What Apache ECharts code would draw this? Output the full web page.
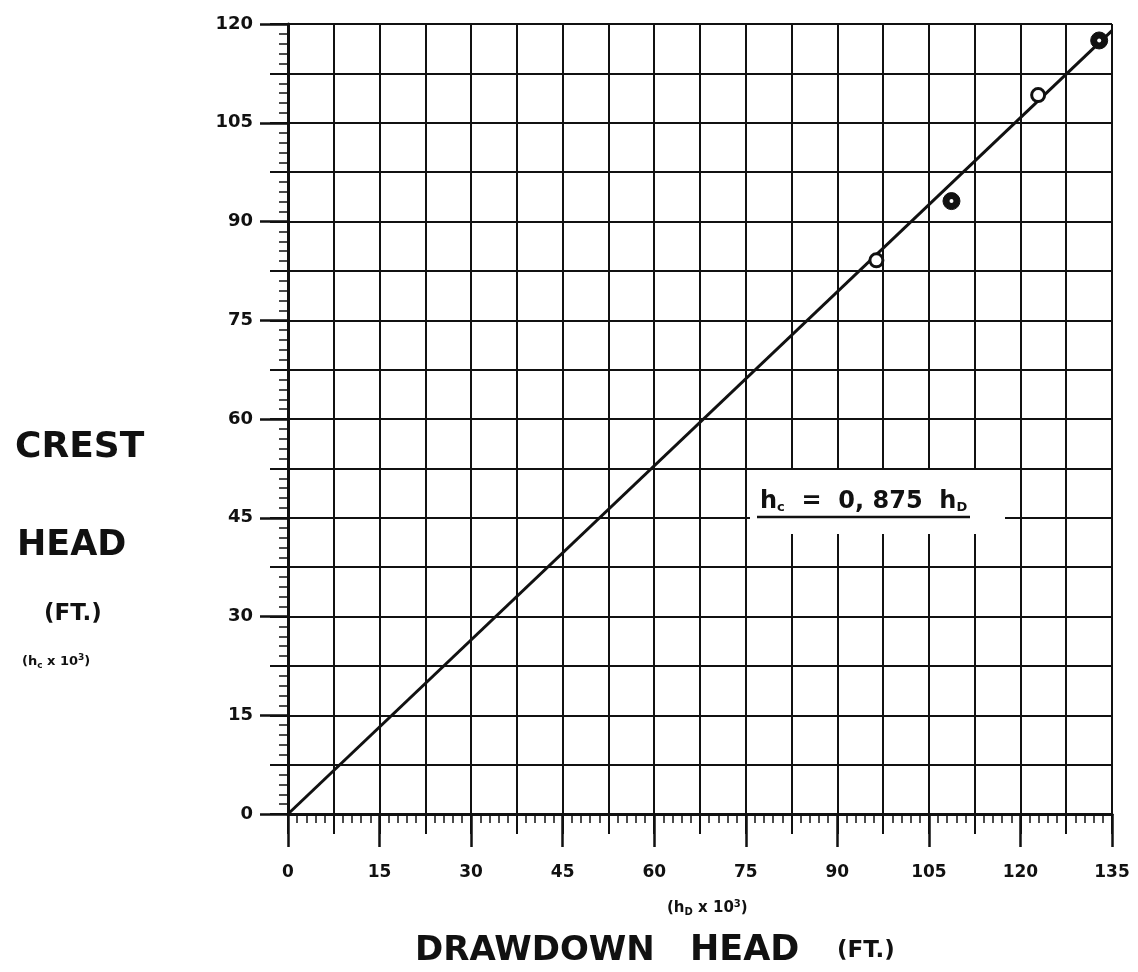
<!DOCTYPE html>
<html><head><meta charset="utf-8">
<script src="https://cdn.jsdelivr.net/npm/echarts@6/dist/echarts.min.js"></script>
<style>html,body{margin:0;padding:0;background:#fff}#c{width:1138px;height:972px}</style>
</head><body><div id="c"></div>
<script>
// Tick labels
const xTickLabels = [0, 15, 30, 45, 60, 75, 90, 105, 120, 135];
const yTickLabels = [0, 15, 30, 45, 60, 75, 90, 105, 120];
// Observed points (drawdown head, crest head), x 10^3 ft
const openPoints = [[96.4, 84.1], [122.9, 109.2]];
const filledPoints = [[108.7, 93.1], [132.9, 117.5]];
// Fitted line hc = 0.875 hD (end points as drawn)
const fitLine = [[0, 0], [135, 119]];

const INK = '#111';
const FONT = '"DejaVu Sans", sans-serif';
const chart = echarts.init(document.getElementById('c'), null, {renderer: 'canvas'});

const baseX = {
  type: 'value', min: 0, max: 135, gridIndex: 0, position: 'bottom', offset: 0
};
const baseY = {
  type: 'value', min: 0, max: 120, gridIndex: 0, position: 'left', offset: 0
};

chart.setOption({
  animation: false,
  backgroundColor: '#fff',
  grid: {left: 288, right: 26, top: 24, bottom: 158, containLabel: false},
  xAxis: [
    Object.assign({}, baseX, {
      interval: 7.5,
      axisLine: {show: true, onZero: false, lineStyle: {color: INK, width: 3}},
      axisTick: {show: true, inside: false, length: 20, lineStyle: {color: INK, width: 2}},
      minorTick: {show: true, splitNumber: 5, length: 9, lineStyle: {color: INK, width: 1.5}},
      axisLabel: {show: false},
      splitLine: {show: true, lineStyle: {color: INK, width: 2}}
    }),
    Object.assign({}, baseX, {
      interval: 15,
      axisLine: {show: false, onZero: false},
      axisTick: {show: true, inside: false, length: 33, customValues: xTickLabels, lineStyle: {color: INK, width: 2.5}},
      axisLabel: {show: true, margin: 50, customValues: xTickLabels, color: INK,
        fontFamily: FONT, fontWeight: 'bold', fontSize: 17},
      splitLine: {show: false}
    })
  ],
  yAxis: [
    Object.assign({}, baseY, {
      interval: 7.5,
      axisLine: {show: true, onZero: false, lineStyle: {color: INK, width: 3}},
      axisTick: {show: true, inside: false, length: 18, lineStyle: {color: INK, width: 2}},
      minorTick: {show: true, splitNumber: 5, length: 9, lineStyle: {color: INK, width: 1.5}},
      axisLabel: {show: false},
      splitLine: {show: true, lineStyle: {color: INK, width: 2}}
    }),
    Object.assign({}, baseY, {
      interval: 15,
      axisLine: {show: false, onZero: false},
      axisTick: {show: true, inside: false, length: 28, customValues: yTickLabels, lineStyle: {color: INK, width: 2.5}},
      axisLabel: {show: true, margin: 35, customValues: yTickLabels, color: INK,
        fontFamily: FONT, fontWeight: 'bold', fontSize: 18, verticalAlign: 'middle', padding: [0, 0, 12, 0]},
      splitLine: {show: false}
    })
  ],
  graphic: [
    // equation box
    {type: 'rect', z: 100, shape: {x: 750, y: 470, width: 255, height: 64}, style: {fill: '#fff'}},
    {type: 'text', z: 101, style: {x: 760, y: 502, textVerticalAlign: 'middle', textAlign: 'left',
      text: '{b|h}{s|c}{b|  =  0, 875  h}{s|D}',
      rich: {
        b: {fontFamily: FONT, fontWeight: 'bold', fontSize: 24, fill: INK, verticalAlign: 'bottom'},
        s: {fontFamily: FONT, fontWeight: 'bold', fontSize: 13, fill: INK, verticalAlign: 'bottom', padding: [0, 0, 0, 0]}
      }}},
    {type: 'line', z: 101, shape: {x1: 757, y1: 517, x2: 970, y2: 517}, style: {stroke: INK, lineWidth: 2.5}},
    // left axis title
    {type: 'text', style: {x: 15, y: 448, textVerticalAlign: 'middle', text: 'CREST',
      font: 'bold 36px ' + FONT, fill: INK}},
    {type: 'text', style: {x: 17, y: 546, textVerticalAlign: 'middle', text: 'HEAD',
      font: 'bold 35px ' + FONT, fill: INK}},
    {type: 'text', style: {x: 44, y: 614, textVerticalAlign: 'middle', text: '(FT.)',
      font: 'bold 23px ' + FONT, fill: INK}},
    {type: 'text', style: {x: 22, y: 662, textVerticalAlign: 'middle',
      text: '{a|(h}{s|c}{a| x 10}{p|3}{a|)}',
      rich: {
        a: {fontFamily: FONT, fontWeight: 'bold', fontSize: 13, fill: INK},
        s: {fontFamily: FONT, fontWeight: 'bold', fontSize: 9, fill: INK, padding: [8, 0, 0, 0]},
        p: {fontFamily: FONT, fontWeight: 'bold', fontSize: 9, fill: INK, padding: [0, 0, 8, 0]}
      }}},
    // bottom axis title
    {type: 'text', style: {x: 667, y: 908, textVerticalAlign: 'middle',
      text: '{a|(h}{s|D}{a| x 10}{p|3}{a|)}',
      rich: {
        a: {fontFamily: FONT, fontWeight: 'bold', fontSize: 15, fill: INK},
        s: {fontFamily: FONT, fontWeight: 'bold', fontSize: 10, fill: INK, padding: [8, 0, 0, 0]},
        p: {fontFamily: FONT, fontWeight: 'bold', fontSize: 10, fill: INK, padding: [0, 0, 8, 0]}
      }}},
    {type: 'text', style: {x: 415, y: 951, textVerticalAlign: 'middle', text: 'DRAWDOWN',
      font: 'bold 34px ' + FONT, fill: INK}},
    {type: 'text', style: {x: 690, y: 951, textVerticalAlign: 'middle', text: 'HEAD',
      font: 'bold 35px ' + FONT, fill: INK}},
    {type: 'text', style: {x: 837, y: 951, textVerticalAlign: 'middle', text: '(FT.)',
      font: 'bold 23px ' + FONT, fill: INK}}
  ],
  series: [
    {type: 'line', name: 'fit', data: fitLine, xAxisIndex: 0, yAxisIndex: 0, showSymbol: false,
      symbol: 'none', lineStyle: {color: INK, width: 3}, z: 5},
    {type: 'scatter', name: 'open', data: openPoints, xAxisIndex: 0, yAxisIndex: 0,
      symbol: 'circle', symbolSize: 13,
      itemStyle: {color: '#fff', borderColor: INK, borderWidth: 3, opacity: 1}, z: 6},
    {type: 'scatter', name: 'filled', data: filledPoints, xAxisIndex: 0, yAxisIndex: 0,
      symbol: 'circle', symbolSize: 17,
      itemStyle: {color: INK, borderColor: INK, borderWidth: 1, opacity: 1}, z: 6},
    {type: 'scatter', name: 'filled-centre', data: filledPoints, xAxisIndex: 0, yAxisIndex: 0,
      symbol: 'circle', symbolSize: 4, silent: true,
      itemStyle: {color: '#fff', opacity: 1}, z: 7}
  ]
});
</script></body></html>
